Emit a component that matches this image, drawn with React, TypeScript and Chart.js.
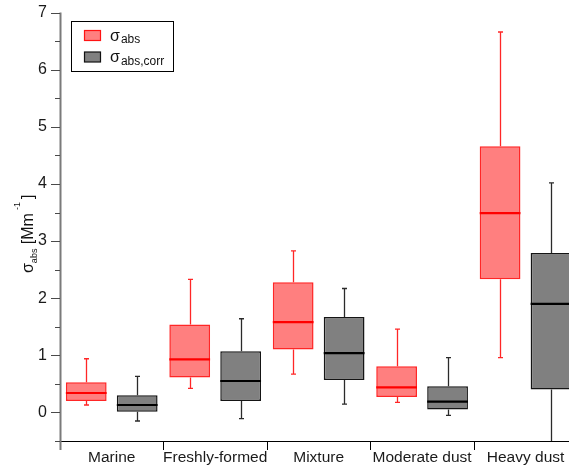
import { useEffect, useRef } from 'react';
import { Chart, registerables } from 'chart.js';

Chart.register(...registerables);

const categories = ['Marine', 'Freshly-formed', 'Mixture', 'Moderate dust', 'Heavy dust'];

// sigma_abs
const absMin = [0.13, 0.42, 0.67, 0.175, 0.96];
const absQ1 = [0.2, 0.61, 1.1, 0.27, 2.33];
const absMedian = [0.34, 0.93, 1.58, 0.44, 3.49];
const absQ3 = [0.53, 1.54, 2.28, 0.81, 4.66];
const absMax = [0.94, 2.33, 2.83, 1.46, 6.66];

// sigma_abs,corr
const corrMin = [-0.15, -0.11, 0.145, -0.05, -0.9];
const corrQ1 = [0.01, 0.2, 0.57, 0.05, 0.4];
const corrMedian = [0.13, 0.55, 1.04, 0.19, 1.9];
const corrQ3 = [0.3, 1.07, 1.67, 0.46, 2.79];
const corrMax = [0.63, 1.64, 2.17, 0.96, 4.02];

const yTickValues = [0, 1, 2, 3, 4, 5, 6, 7];
const yMinorTicks = [-0.5, 0.5, 1.5, 2.5, 3.5, 4.5, 5.5, 6.5];
const xSeparators = [-0.5, 0.5, 1.5, 2.5, 3.5, 4.5];

const FONT = '"Liberation Sans", Arial, sans-serif';

export default function App() {
  const ref = useRef<HTMLCanvasElement>(null);

  useEffect(() => {
    if (!ref.current) return;

    const series = [
      { min: absMin, q1: absQ1, med: absMedian, q3: absQ3, max: absMax, whisker: 'rgba(255,0,0,0.85)', median: '#ff0000' },
      { min: corrMin, q1: corrQ1, med: corrMedian, q3: corrQ3, max: corrMax, whisker: '#2a2a2a', median: '#000000' },
    ];

    const boxPlugin = {
      id: 'boxDetails',
      afterDatasetsDraw(chart: any) {
        const ctx = chart.ctx;
        const ys = chart.scales.y;
        const a = chart.chartArea;
        ctx.save();
        ctx.beginPath();
        ctx.rect(a.left, a.top, a.right - a.left, a.bottom - a.top);
        ctx.clip();
        series.forEach((s, d) => {
          const meta = chart.getDatasetMeta(d);
          meta.data.forEach((el: any, i: number) => {
            const { x, width } = el.getProps(['x', 'width'], true);
            const half = width / 2;
            const cx = Math.round(x) + 0.5;
            const pMax = ys.getPixelForValue(s.max[i]);
            const pMin = ys.getPixelForValue(s.min[i]);
            const pQ1 = ys.getPixelForValue(s.q1[i]);
            const pQ3 = ys.getPixelForValue(s.q3[i]);
            const pMed = ys.getPixelForValue(s.med[i]);
            ctx.strokeStyle = s.whisker;
            ctx.lineWidth = 1.3;
            ctx.beginPath();
            ctx.moveTo(cx, pQ3);
            ctx.lineTo(cx, pMax);
            ctx.moveTo(cx, pQ1);
            ctx.lineTo(cx, pMin);
            ctx.moveTo(cx - 2.5, pMax);
            ctx.lineTo(cx + 2.5, pMax);
            ctx.moveTo(cx - 2.5, pMin);
            ctx.lineTo(cx + 2.5, pMin);
            ctx.stroke();
            ctx.strokeStyle = s.median;
            ctx.lineWidth = 2.2;
            ctx.beginPath();
            ctx.moveTo(x - half, pMed);
            ctx.lineTo(x + half, pMed);
            ctx.stroke();
          });
        });
        ctx.restore();
      },
    };

    const axesPlugin = {
      id: 'axesDraw',
      afterDraw(chart: any) {
        const ctx = chart.ctx;
        const xs = chart.scales.x;
        const ys = chart.scales.y;
        const a = chart.chartArea;
        ctx.save();
        // x axis line
        ctx.strokeStyle = '#000';
        ctx.lineWidth = 1;
        ctx.beginPath();
        ctx.moveTo(a.left - 5, Math.round(a.bottom) + 0.5);
        ctx.lineTo(a.right, Math.round(a.bottom) + 0.5);
        ctx.stroke();
        // x separator ticks
        ctx.beginPath();
        xSeparators.forEach((v) => {
          if (v === -0.5) return;
          const px = Math.round(xs.getPixelForValue(v)) + 0.5;
          ctx.moveTo(px, a.bottom);
          ctx.lineTo(px, a.bottom + 9);
        });
        ctx.stroke();
        // y axis line
        ctx.strokeStyle = '#7a7a7a';
        ctx.lineWidth = 2;
        ctx.beginPath();
        ctx.moveTo(a.left + 0.5, a.top);
        ctx.lineTo(a.left + 0.5, a.bottom + 9);
        ctx.stroke();
        // y ticks
        ctx.strokeStyle = '#4a4a4a';
        ctx.lineWidth = 1;
        ctx.beginPath();
        yTickValues.forEach((v) => {
          const py = Math.round(ys.getPixelForValue(v)) + 0.5;
          ctx.moveTo(a.left - 9, py);
          ctx.lineTo(a.left, py);
        });
        yMinorTicks.forEach((v) => {
          const py = Math.round(ys.getPixelForValue(v)) + 0.5;
          ctx.moveTo(a.left - 5, py);
          ctx.lineTo(a.left, py);
        });
        ctx.stroke();
        ctx.restore();
      },
    };

    const legendPlugin = {
      id: 'customLegend',
      afterDraw(chart: any) {
        const ctx = chart.ctx;
        ctx.save();
        ctx.fillStyle = '#fff';
        ctx.fillRect(71.5, 21.5, 102, 50);
        ctx.strokeStyle = '#000';
        ctx.lineWidth = 1;
        ctx.strokeRect(71.5, 21.5, 102, 50);
        const items = [
          { fill: 'rgba(255,0,0,0.5)', stroke: 'rgba(255,0,0,0.9)', sub: 'abs', y: 30.5 },
          { fill: '#808080', stroke: '#111', sub: 'abs,corr', y: 52 },
        ];
        items.forEach((it) => {
          ctx.fillStyle = it.fill;
          ctx.fillRect(84.5, it.y, 16, 10);
          ctx.strokeStyle = it.stroke;
          ctx.lineWidth = 1.2;
          ctx.strokeRect(84.5, it.y, 16, 10);
          ctx.fillStyle = '#111';
          ctx.textBaseline = 'alphabetic';
          ctx.textAlign = 'left';
          ctx.font = '16px ' + FONT;
          ctx.fillText('σ', 110, it.y + 10);
          const w = ctx.measureText('σ').width;
          ctx.font = '12px ' + FONT;
          ctx.fillText(it.sub, 110 + w + 1, it.y + 12.5);
        });
        ctx.restore();
      },
    };

    const titlePlugin = {
      id: 'yTitle',
      afterDraw(chart: any) {
        const ctx = chart.ctx;
        ctx.save();
        ctx.translate(32.5, 273);
        ctx.rotate(-Math.PI / 2);
        ctx.fillStyle = '#111';
        ctx.textAlign = 'left';
        ctx.textBaseline = 'alphabetic';
        let x = 0;
        ctx.font = '16px ' + FONT;
        ctx.fillText('σ', x, 0);
        x += ctx.measureText('σ').width;
        ctx.font = '9px ' + FONT;
        ctx.fillText('abs', x, 4);
        x += ctx.measureText('abs').width;
        ctx.font = '16px ' + FONT;
        x += ctx.measureText(' ').width;
        ctx.fillText('[Mm', x, 0);
        x += ctx.measureText('[Mm').width + 3;
        ctx.font = '9px ' + FONT;
        ctx.fillText('-1', x, -13);
        x += ctx.measureText('-1').width + 3;
        ctx.font = '16px ' + FONT;
        ctx.fillText(']', x, 0);
        ctx.restore();
      },
    };

    const chart = new Chart(ref.current, {
      type: 'bar',
      data: {
        datasets: [
          {
            label: 'σabs',
            data: categories.map((_, i) => ({ x: i, y: [absQ1[i], absQ3[i]] })) as any,
            backgroundColor: 'rgba(255,0,0,0.5)',
            borderColor: 'rgba(255,0,0,0.85)',
            borderWidth: 1.5,
            borderSkipped: false,
          },
          {
            label: 'σabs,corr',
            data: categories.map((_, i) => ({ x: i, y: [corrQ1[i], corrQ3[i]] })) as any,
            backgroundColor: '#808080',
            borderColor: '#151515',
            borderWidth: 1.5,
            borderSkipped: false,
          },
        ],
      },
      options: {
        responsive: false,
        animation: false,
        layout: { padding: { top: 12.6, left: 0, right: 0, bottom: 0 } },
        plugins: { legend: { display: false }, tooltip: { enabled: false } },
        datasets: { bar: { categoryPercentage: 0.985, barPercentage: 0.8 } },
        scales: {
          x: {
            type: 'linear',
            min: -0.5,
            max: 4.42,
            offset: false,
            grid: { display: false, drawTicks: false },
            border: { display: false },
            afterBuildTicks: (s: any) => {
              s.ticks = categories.map((_, i) => ({ value: i }));
            },
            afterFit: (s: any) => {
              s.height = 25;
              s.paddingLeft = 0;
              s.paddingRight = 0;
            },
            ticks: {
              autoSkip: false,
              maxRotation: 0,
              minRotation: 0,
              padding: 7,
              color: '#1a1a1a',
              font: { size: 15.5, family: FONT },
              callback: (v: any) => categories[v as number] ?? '',
            },
          },
          y: {
            type: 'linear',
            min: -0.5,
            max: 7,
            grid: { display: false, drawTicks: false },
            border: { display: false },
            afterBuildTicks: (s: any) => {
              s.ticks = yTickValues.map((v) => ({ value: v }));
            },
            afterFit: (s: any) => {
              s.width = 60;
              s.paddingTop = 0;
              s.paddingBottom = 0;
            },
            ticks: {
              padding: 13,
              color: '#1a1a1a',
              font: { size: 16, family: FONT },
              callback: (v: any) => String(v),
            },
          },
        },
      } as any,
      plugins: [boxPlugin, axesPlugin, legendPlugin, titlePlugin],
    });

    return () => chart.destroy();
  }, []);

  return (
    <div style={{ position: 'absolute', left: 0, top: 0, width: 569, height: 466, background: '#fff' }}>
      <canvas ref={ref} width={569} height={466} style={{ width: 569, height: 466, display: 'block' }} />
    </div>
  );
}
